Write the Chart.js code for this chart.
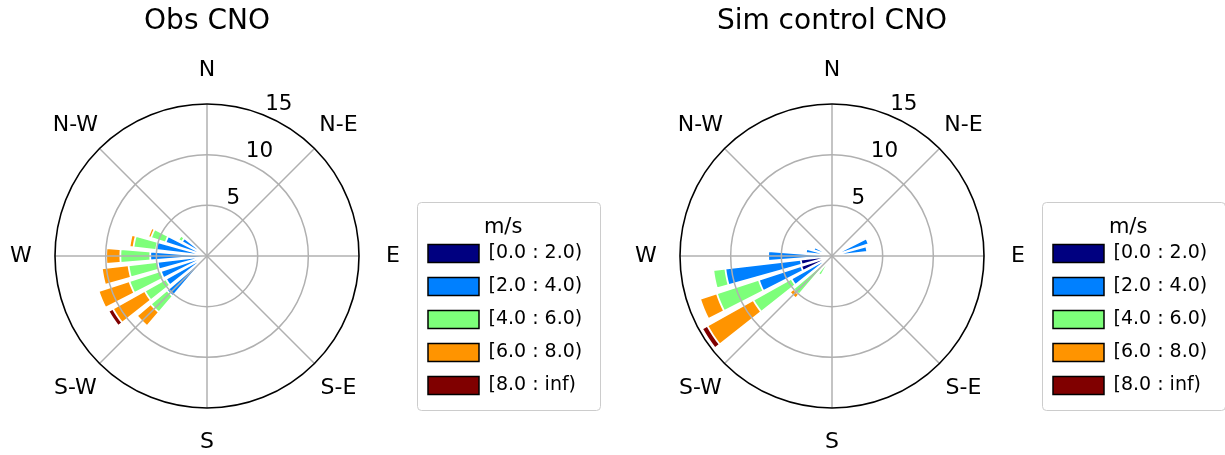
<!DOCTYPE html>
<html>
<head>
<meta charset="utf-8">
<script src="https://cdn.jsdelivr.net/npm/chart.js@4.4.1/dist/chart.umd.min.js"></script>
<style>
  html, body { margin: 0; padding: 0; background: #fff; }
  .wrap { position: relative; width: 1225px; height: 455px; overflow: hidden; }
  #obs-rose { position: absolute; left: 0; top: 0; }
  #sim-rose { position: absolute; left: 625px; top: 0; }
</style>
</head>
<body>
<div class="wrap">
  <canvas id="obs-rose" width="625" height="455"></canvas>
  <canvas id="sim-rose" width="600" height="455"></canvas>
</div>
<script>
// Wind roses: Obs vs Sim control at CNO, 32 direction sectors, stacked speed bins

var FONT = '"DejaVu Sans", "Liberation Sans", sans-serif';
var GRID_GREY = '#b0b0b0';

var COMPASS = ['N', 'N-E', 'E', 'S-E', 'S', 'S-W', 'W', 'N-W'];
var RADIAL_TICKS = [5, 10, 15];
var SPEED_BINS = ['[0.0 : 2.0)', '[2.0 : 4.0)', '[4.0 : 6.0)', '[6.0 : 8.0)', '[8.0 : inf)'];
var BIN_COLORS = ['#000080', '#0080ff', '#7dff7a', '#ff9400', '#800000'];

// frequency per sector, index 0 = N, clockwise, 11.25 deg per sector
var OBS_0_2   = [0,0,0,0,0,0,0,0, 0,0,0,0,0,0,0,0, 0,0,0,0,0.4,0.4,0.4,0.4, 0.4,0.4,0.3,0.3,0,0,0,0];
var OBS_2_4   = [0,0,0,0,0,0,0,0, 0,0,0,0,0,0,0,0, 0,0,0,0,4.8,4.25,4.4,4.5, 5.2,4.65,4.0,2.55,0,0,0,0];
var OBS_4_6   = [0,0,0,0,0,0,0,0, 0,0,0,0,0,0,0,0, 0,0,0,0,2.1,2.4,3.25,2.9, 2.95,2.25,1.5,0.4,0,0,0,0];
var OBS_6_8   = [0,0,0,0,0,0,0,0, 0,0,0,0,0,0,0,0, 0,0,0,0,1.8,3.6,3.2,2.65, 1.4,0.4,0.3,0,0,0,0,0];
var OBS_8_INF = [0,0,0,0,0,0,0,0, 0,0,0,0,0,0,0,0, 0,0,0,0,0,0.5,0,0, 0,0,0,0,0,0,0,0];

var SIM_0_2   = [0,0,0,0,0,0,0.3,0.3, 0,0,0,0,0,0,0,0, 0,0,0,0.2,0.3,0.5,3.2,3.1, 0.3,0.3,0.2,0,0,0,0,0];
var SIM_2_4   = [0,0,0,0,0,0,3.5,3.2, 0,0,0,0,0,0,0,0, 0,0,0,0.6,1.2,4.1,4.4,7.5, 6.0,2.3,1.7,0,0,0,0,0];
var SIM_4_6   = [0,0,0,0,0,0,0,0, 0,0,0,0,0,0,0,0, 0,0,0,1.4,3.5,4.3,4.35,1.2, 0,0,0,0,0,0,0,0];
var SIM_6_8   = [0,0,0,0,0,0,0,0, 0,0,0,0,0,0,0,0, 0,0,0,0,0.5,5.2,1.75,0, 0,0,0,0,0,0,0,0];
var SIM_8_INF = [0,0,0,0,0,0,0,0, 0,0,0,0,0,0,0,0, 0,0,0,0,0,0.6,0,0, 0,0,0,0,0,0,0,0];

var SECTOR_ANGLE = 360 / OBS_0_2.length;
var BAR_ANGLE = SECTOR_ANGLE * 0.8;
var GAP_ANGLE = SECTOR_ANGLE - BAR_ANGLE;

var LEGEND_FONT_SIZE = 19;
var LEGEND_BOX_W = 51;
var LEGEND_PAD = 14;

function fontString(size) {
  return 'normal ' + size + 'px ' + FONT;
}

// polarArea can't stack, so each bin is drawn as the running total,
// the bigger wedges go underneath (dataset 0 is drawn last)
function buildDatasets(bins) {
  var run = bins[0].map(function() { return 0; });
  return bins.map(function(bin, j) {
    run = run.map(function(v, i) { return v + bin[i]; });
    var data = [];
    run.forEach(function(v, i) {
      data.push(bin[i] > 0 ? v : 0);
      data.push(0); // gap between sectors
    });
    return {
      label: SPEED_BINS[j],
      data: data,
      backgroundColor: BIN_COLORS[j],
      borderColor: '#ffffff',
      borderWidth: function(ctx) { return ctx.raw > 0 ? 1.8 : 0; },
      angle: function(ctx) { return ctx.dataIndex % 2 === 0 ? BAR_ANGLE : GAP_ANGLE; }
    };
  });
}

function legendWidth() {
  var c = document.createElement('canvas').getContext('2d');
  c.font = fontString(LEGEND_FONT_SIZE);
  var w = 0;
  SPEED_BINS.forEach(function(t) { w = Math.max(w, c.measureText(t).width); });
  return LEGEND_PAD + LEGEND_BOX_W + LEGEND_FONT_SIZE / 2 + w + 10;
}

var roseDecor = {
  id: 'roseDecor',
  afterDatasetsDraw: function(chart) {
    var scale = chart.scales.r;
    var ctx = chart.ctx;
    var outer = scale.getDistanceFromCenterForValue(scale.max);
    ctx.save();
    ctx.strokeStyle = GRID_GREY;
    ctx.lineWidth = 1.5;
    for (var k = 0; k < COMPASS.length; k++) {
      var a = k * Math.PI / 4;
      ctx.beginPath();
      ctx.moveTo(scale.xCenter, scale.yCenter);
      ctx.lineTo(scale.xCenter + outer * Math.sin(a), scale.yCenter - outer * Math.cos(a));
      ctx.stroke();
    }
    ctx.restore();
  },
  afterDraw: function(chart, args, opts) {
    var scale = chart.scales.r;
    var ctx = chart.ctx;
    var xc = scale.xCenter;
    var yc = scale.yCenter;
    ctx.save();
    ctx.fillStyle = '#000';

    // title
    ctx.font = fontString(28);
    ctx.textAlign = 'center';
    ctx.textBaseline = 'alphabetic';
    ctx.fillText(opts.title, xc, 29);

    // compass directions
    ctx.font = fontString(22);
    ctx.textBaseline = 'middle';
    var d = scale.drawingArea + 34;
    COMPASS.forEach(function(name, k) {
      var a = k * Math.PI / 4;
      ctx.fillText(name, xc + d * Math.sin(a), yc - d * Math.cos(a) + 0.5);
    });

    // radial tick labels along 22.5 deg
    ctx.font = fontString(21.5);
    ctx.textAlign = 'left';
    ctx.textBaseline = 'bottom';
    var ta = 22.5 * Math.PI / 180;
    RADIAL_TICKS.forEach(function(v) {
      var r = scale.getDistanceFromCenterForValue(v);
      ctx.fillText(String(v), xc + r * Math.sin(ta), yc - r * Math.cos(ta));
    });

    // legend frame
    ctx.strokeStyle = '#cccccc';
    ctx.lineWidth = 1;
    ctx.beginPath();
    ctx.roundRect(xc + 210.5, yc - 53.5, 183, 208, 4);
    ctx.stroke();
    ctx.restore();
  }
};

function makeRose(canvasId, title, bins) {
  var canvas = document.getElementById(canvasId);
  var labels = [];
  bins[0].forEach(function() { labels.push('', ''); });

  return new Chart(canvas, {
    type: 'polarArea',
    data: {
      labels: labels,
      datasets: buildDatasets(bins)
    },
    plugins: [roseDecor],
    options: {
      responsive: false,
      animation: false,
      devicePixelRatio: 1,
      events: [],
      layout: {
        padding: { left: -6, top: 104, right: canvas.width - 414 - legendWidth(), bottom: 46 }
      },
      scales: {
        r: {
          min: 0,
          max: 15,
          startAngle: -BAR_ANGLE / 2,
          ticks: { display: false, stepSize: 5 },
          angleLines: { display: false },
          pointLabels: { display: false },
          grid: {
            z: 1,
            circular: true,
            color: function(ctx) { return ctx.tick && ctx.tick.value === 15 ? '#000000' : GRID_GREY; },
            lineWidth: function(ctx) { return ctx.tick && ctx.tick.value === 15 ? 1.6 : 1.5; }
          }
        }
      },
      plugins: {
        tooltip: { enabled: false },
        legend: {
          position: 'right',
          align: 'end',
          title: {
            display: true,
            text: 'm/s',
            color: '#000',
            font: { family: FONT, size: 21 },
            padding: { top: 0, bottom: -12 }
          },
          labels: {
            color: '#000',
            font: { family: FONT, size: LEGEND_FONT_SIZE },
            boxWidth: LEGEND_BOX_W,
            boxHeight: 18,
            padding: LEGEND_PAD,
            generateLabels: function() {
              return SPEED_BINS.map(function(text, j) {
                return {
                  text: text,
                  fillStyle: BIN_COLORS[j],
                  strokeStyle: '#000000',
                  lineWidth: 1.5,
                  hidden: false,
                  datasetIndex: j
                };
              });
            }
          }
        },
        roseDecor: { title: title }
      }
    }
  });
}

makeRose('obs-rose', 'Obs CNO', [OBS_0_2, OBS_2_4, OBS_4_6, OBS_6_8, OBS_8_INF]);
makeRose('sim-rose', 'Sim control CNO', [SIM_0_2, SIM_2_4, SIM_4_6, SIM_6_8, SIM_8_INF]);
</script>
</body>
</html>
